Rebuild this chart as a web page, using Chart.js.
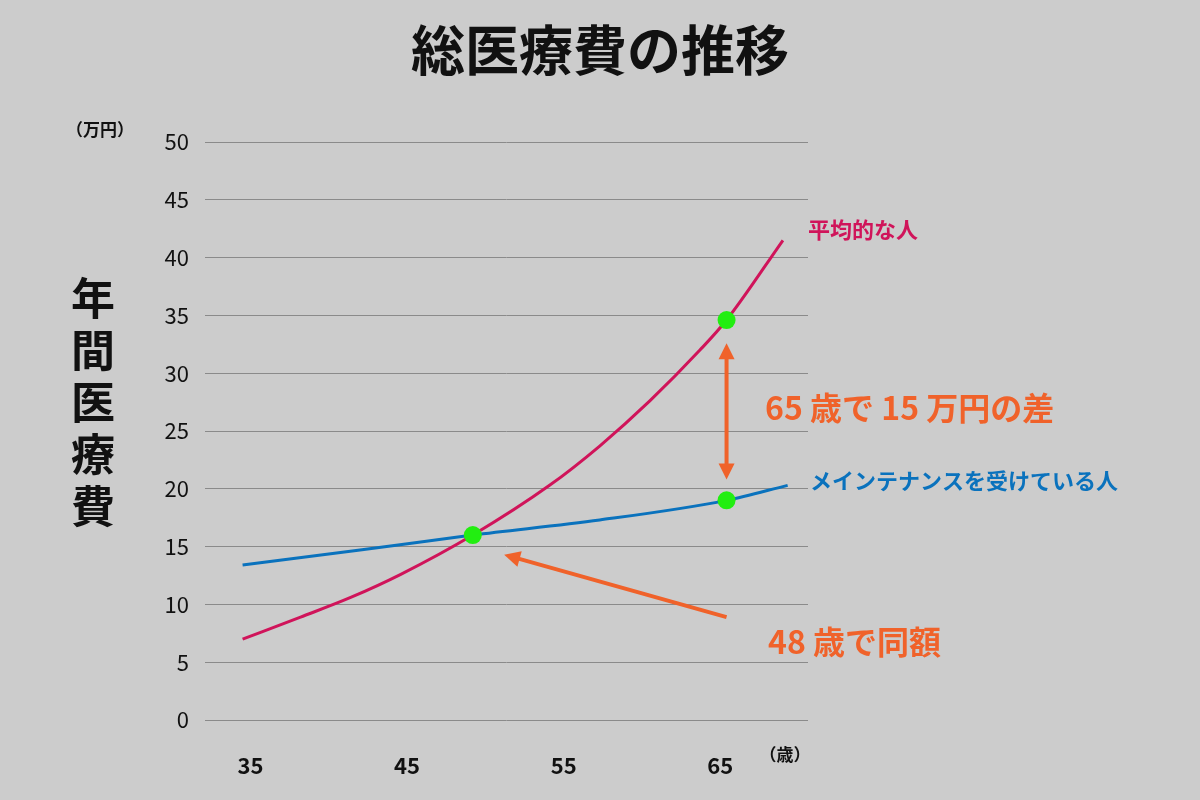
<!DOCTYPE html>
<html>
<head>
<meta charset="utf-8">
<script src="https://cdn.jsdelivr.net/npm/chart.js@4/dist/chart.umd.min.js"></script>
<style>
  html, body { margin: 0; padding: 0; background: #cccccc; }
  #wrap { width: 1200px; height: 800px; }
</style>
</head>
<body>
<div id="wrap"><canvas id="chart" width="1200" height="800"></canvas></div>
<script>
/* ============================================================
   Données
   ============================================================ */
const xTicks = [35, 45, 55, 65];
const yTicks = [0, 5, 10, 15, 20, 25, 30, 35, 40, 45, 50];

const averageAges = [34.5, 38.2, 41.4, 44.6, 49.2, 54.1, 57.3, 60.5, 63.7, 65.4, 69];
const averageCost = [7.0, 8.9, 10.6, 12.6, 16, 20.3, 23.7, 27.6, 32.0, 34.6, 41.5];

const careAges = [34.5, 42, 49.2, 57.3, 65.4, 69.3];
const careCost = [13.4, 14.7, 16, 17.3, 19.0, 20.3];

const markerAges = [49.2, 65.4, 65.4];
const markerCost = [16, 34.6, 19.0];

const FONT = '"Noto Sans CJK JP", "Noto Sans", sans-serif';
const RED = '#d0145a';
const BLUE = '#0a72bd';
const ORANGE = '#f0622a';

const toXY = (xs, ys) => xs.map((x, i) => ({ x: x, y: ys[i] }));

/* ============================================================
   Annotations (titre, flèches, textes)
   ============================================================ */
function arrowHead(c, x1, y1, x2, y2) {
    const a = Math.atan2(y2 - y1, x2 - x1);
    const len = 16, w = 8;
    c.beginPath();
    c.moveTo(x2, y2);
    c.lineTo(x2 - len * Math.cos(a) + w * Math.sin(a), y2 - len * Math.sin(a) - w * Math.cos(a));
    c.lineTo(x2 - len * Math.cos(a) - w * Math.sin(a), y2 - len * Math.sin(a) + w * Math.cos(a));
    c.closePath();
    c.fill();
}

function line(c, x1, y1, x2, y2) {
    c.beginPath();
    c.moveTo(x1, y1);
    c.lineTo(x2, y2);
    c.stroke();
}

const annotations = {
    id: 'annotations',
    afterDraw(chart) {
        const c = chart.ctx;
        const xs = chart.scales.x, ys = chart.scales.y;
        c.save();
        c.fillStyle = '#111';
        c.textAlign = 'center';
        c.textBaseline = 'middle';
        c.font = 'bold 54px ' + FONT;
        c.fillText('総医療費の推移', 600, 50);

        c.font = 'bold 17px ' + FONT;
        c.fillText('（万円）', 100, 130);
        c.fillText('（歳）', 785, 755);

        c.font = 'bold 44px ' + FONT;
        ['年', '間', '医', '療', '費'].forEach((ch, i) => c.fillText(ch, 93, 298 + i * 52));

        // libellés des courbes
        c.textAlign = 'left';
        c.font = 'bold 22px ' + FONT;
        c.fillStyle = RED;
        c.fillText('平均的な人', 808, 230);
        c.fillStyle = BLUE;
        c.fillText('メインテナンスを受けている人', 810, 481);

        // flèches
        c.strokeStyle = ORANGE;
        c.fillStyle = ORANGE;
        c.lineWidth = 4;
        const ax = xs.getPixelForValue(65.4);
        const top = ys.getPixelForValue(32.6), bot = ys.getPixelForValue(20.8);
        line(c, ax, top + 10, ax, bot - 10);
        arrowHead(c, ax, bot, ax, top);
        arrowHead(c, ax, top, ax, bot);

        const x1 = xs.getPixelForValue(65.4), y1 = ys.getPixelForValue(8.9);
        const x2 = xs.getPixelForValue(51.2), y2 = ys.getPixelForValue(14.3);
        const a = Math.atan2(y2 - y1, x2 - x1);
        line(c, x1, y1, x2 - 12 * Math.cos(a), y2 - 12 * Math.sin(a));
        arrowHead(c, x1, y1, x2, y2);

        c.font = 'bold 32px ' + FONT;
        c.fillText('65 歳で 15 万円の差', 765, 408);
        c.fillText('48 歳で同額', 768, 642);
        c.restore();
    }
};

/* ============================================================
   Graphique
   ============================================================ */
new Chart(document.getElementById('chart').getContext('2d'), {
    type: 'line',
    data: {
        datasets: [
            {
                data: toXY(markerAges, markerCost),
                showLine: false,
                pointRadius: 9,
                pointBackgroundColor: '#22ee11',
                pointBorderWidth: 0
            },
            {
                data: toXY(averageAges, averageCost),
                borderColor: RED,
                borderWidth: 3,
                pointRadius: 0,
                cubicInterpolationMode: 'monotone'
            },
            {
                data: toXY(careAges, careCost),
                borderColor: BLUE,
                borderWidth: 3,
                pointRadius: 0,
                cubicInterpolationMode: 'monotone'
            }
        ]
    },
    options: {
        responsive: false,
        animation: false,
        layout: { padding: { left: 135, right: 392, top: 142, bottom: 25 } },
        plugins: { legend: { display: false }, tooltip: { enabled: false } },
        scales: {
            x: {
                type: 'linear',
                min: 32.1,
                max: 70.6,
                afterBuildTicks: s => { s.ticks = xTicks.map(v => ({ value: v })); },
                afterFit: s => { s.height = 55; },
                grid: { display: false },
                border: { display: false },
                ticks: { color: '#111', padding: 24, font: { family: FONT, size: 22, weight: 'bold' } }
            },
            y: {
                min: 0,
                max: 50,
                afterBuildTicks: s => { s.ticks = yTicks.map(v => ({ value: v })); },
                afterFit: s => { s.width = 70; },
                grid: { color: '#8a8a8a', lineWidth: 1, drawTicks: false },
                border: { display: false },
                ticks: { color: '#111', padding: 16, font: { family: FONT, size: 22 } }
            }
        }
    },
    plugins: [annotations]
});
</script>
</body>
</html>
